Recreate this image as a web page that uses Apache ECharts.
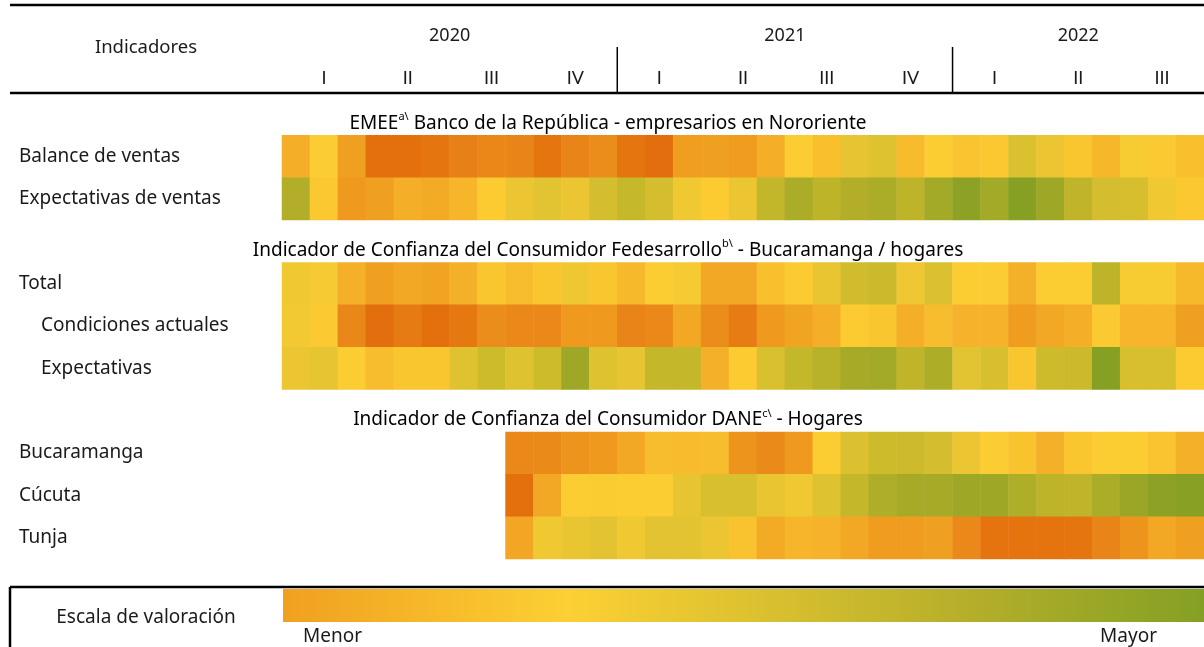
<!DOCTYPE html>
<html>
<head>
<meta charset="utf-8">
<script src="https://cdn.jsdelivr.net/npm/echarts@6/dist/echarts.min.js"></script>
<style>
  html, body { margin: 0; padding: 0; background: #fff; }
  #chart { width: 1204px; height: 647px; }
</style>
</head>
<body>
<div id="chart"></div>
<script>
// meses (ene-2020 a sep-2022)
const months = [
  'ene-20', 'feb-20', 'mar-20', 'abr-20', 'may-20', 'jun-20', 'jul-20', 'ago-20', 'sep-20', 'oct-20', 'nov-20', 'dic-20',
  'ene-21', 'feb-21', 'mar-21', 'abr-21', 'may-21', 'jun-21', 'jul-21', 'ago-21', 'sep-21', 'oct-21', 'nov-21', 'dic-21',
  'ene-22', 'feb-22', 'mar-22', 'abr-22', 'may-22', 'jun-22', 'jul-22', 'ago-22', 'sep-22'
];
const quarterLabels = ['I', 'II', 'III', 'IV', 'I', 'II', 'III', 'IV', 'I', 'II', 'III'];
const years = ['2020', '2021', '2022'];

// filas (las vacías son los títulos de cada bloque)
const rowLabels = [
  '', 'Balance de ventas', 'Expectativas de ventas',
  '', 'Total', 'Condiciones actuales', 'Expectativas',
  '', 'Bucaramanga', 'Cúcuta', 'Tunja'
];
const indentedRows = [5, 6];
const sectionTitles = [
  { row: 0, name: 'EMEE', sup: 'a\\', rest: ' Banco de la República - empresarios en Nororiente' },
  { row: 3, name: 'Indicador de Confianza del Consumidor Fedesarrollo', sup: 'b\\', rest: ' - Bucaramanga / hogares' },
  { row: 7, name: 'Indicador de Confianza del Consumidor DANE', sup: 'c\\', rest: ' - Hogares' }
];

// escala de valoración: 0 = menor, 100 = mayor
const balanceVentas = [30, 45, 25, 2, 2, 5, 10, 13, 12, 5, 12, 16, 5, 1, 24, 25, 23, 30, 45, 38, 55, 60, 36, 45, 40, 42, 62, 52, 41, 34, 47, 43, 38];
const expectativasVentas = [82, 42, 22, 25, 30, 29, 33, 44, 52, 58, 53, 66, 73, 66, 50, 44, 52, 75, 85, 77, 82, 85, 77, 88, 97, 88, 100, 90, 76, 66, 65, 50, 42];
const fedTotal = [50, 48, 31, 25, 28, 26, 31, 41, 37, 41, 51, 41, 35, 45, 48, 28, 28, 38, 44, 54, 68, 70, 51, 62, 45, 45, 31, 45, 45, 77, 47, 47, 35];
const fedCondiciones = [49, 43, 13, 1, 7, 2, 6, 16, 14, 14, 22, 22, 12, 14, 28, 16, 8, 22, 26, 30, 44, 41, 30, 37, 32, 32, 23, 28, 30, 43, 33, 33, 25];
const fedExpectativas = [52, 55, 45, 37, 41, 41, 59, 69, 60, 69, 90, 60, 55, 74, 74, 31, 44, 63, 74, 79, 87, 88, 76, 84, 58, 64, 41, 69, 70, 100, 64, 64, 44];
const daneBucaramanga = [null, null, null, null, null, null, null, null, 14, 15, 19, 22, 28, 37, 36, 37, 19, 15, 22, 45, 62, 69, 69, 66, 53, 45, 39, 31, 41, 45, 45, 40, 31];
const daneCucuta = [null, null, null, null, null, null, null, null, 2, 28, 45, 46, 45, 45, 55, 64, 64, 54, 50, 60, 74, 83, 87, 87, 90, 90, 83, 77, 76, 85, 92, 97, 99];
const daneTunja = [null, null, null, null, null, null, null, null, 27, 50, 54, 57, 50, 57, 57, 52, 39, 29, 33, 32, 28, 23, 23, 25, 14, 4, 4, 4, 5, 12, 19, 28, 25];

const scaleColors = [
  '#E36C0C', '#E5760F', '#E88018', '#EA8B19', '#EE961E', '#F0A020', '#F4AE28',
  '#F7B92C', '#FAC430', '#FCCD32', '#F0C832', '#E7C432', '#DEC230', '#D6BE2E',
  '#CCBA2C', '#C2B62A', '#B6B02A', '#ABAC28', '#9EA826', '#92A425', '#86A024'
];

const FONT = '"Noto Sans", sans-serif';
const TXT = '#1a1a1a';

const seriesRows = [
  [1, balanceVentas], [2, expectativasVentas],
  [4, fedTotal], [5, fedCondiciones], [6, fedExpectativas],
  [8, daneBucaramanga], [9, daneCucuta], [10, daneTunja]
];
const heatData = [];
seriesRows.forEach(([row, values]) => {
  values.forEach((v, i) => {
    if (v !== null) heatData.push([i, row, v]);
  });
});

const chart = echarts.init(document.getElementById('chart'));

chart.setOption({
  animation: false,
  backgroundColor: '#fff',
  textStyle: { fontFamily: FONT },
  grid: { left: 282, right: 0, top: 93, height: 466 },
  xAxis: {
    type: 'category',
    data: months,
    position: 'top',
    axisLine: { show: false },
    axisTick: { show: false },
    splitLine: { show: false },
    axisLabel: {
      interval: 0,
      margin: 6,
      fontFamily: 'Lato, "Liberation Sans", sans-serif',
      fontSize: 18,
      color: TXT,
      formatter: (val, idx) => (idx % 3 === 1 ? quarterLabels[(idx - 1) / 3] : '')
    }
  },
  yAxis: {
    type: 'category',
    data: rowLabels,
    inverse: true,
    axisLine: { show: false },
    axisTick: { show: false },
    splitLine: { show: false },
    axisLabel: {
      interval: 0,
      align: 'left',
      margin: 263,
      fontFamily: FONT,
      fontSize: 19,
      color: TXT,
      formatter: (val, idx) => (indentedRows.includes(idx) ? '{ind|' + val + '}' : val),
      rich: {
        ind: { padding: [0, 0, 0, 22], fontFamily: FONT, fontSize: 19, color: TXT }
      }
    }
  },
  visualMap: {
    show: false,
    type: 'continuous',
    min: 0,
    max: 100,
    dimension: 2,
    inRange: { color: scaleColors }
  },
  series: [{
    type: 'heatmap',
    data: heatData,
    itemStyle: { borderWidth: 0 },
    emphasis: { disabled: true }
  }]
});

// textos y líneas del encabezado, ubicados con las escalas del gráfico
const px = (i) => chart.convertToPixel({ xAxisIndex: 0 }, i);
const py = (i) => chart.convertToPixel({ yAxisIndex: 0 }, i);

const yearCenters = [
  (px(5) + px(6)) / 2,
  (px(17) + px(18)) / 2,
  px(28)
];
const yearSeparators = [(px(11) + px(12)) / 2, (px(23) + px(24)) / 2];

const graphics = [
  { type: 'line', shape: { x1: 10, y1: 5, x2: 1204, y2: 5 }, style: { stroke: '#000', lineWidth: 2.5 } },
  { type: 'line', shape: { x1: 10, y1: 93, x2: 1204, y2: 93 }, style: { stroke: '#000', lineWidth: 2.5 } },
  {
    type: 'text', x: 146, y: 48,
    style: { text: 'Indicadores', font: '18.5px ' + FONT, fill: TXT, align: 'center', verticalAlign: 'middle' }
  }
];

years.forEach((y, i) => {
  graphics.push({
    type: 'text', x: yearCenters[i], y: 36,
    style: { text: y, font: '18px ' + FONT, fill: TXT, align: 'center', verticalAlign: 'middle' }
  });
});
yearSeparators.forEach((x) => {
  graphics.push({
    type: 'line', shape: { x1: x, y1: 47, x2: x, y2: 92 },
    style: { stroke: '#000', lineWidth: 1.5 }
  });
});

sectionTitles.forEach((t) => {
  graphics.push({
    type: 'text', x: 608, y: py(t.row) + 9,
    style: {
      text: '{m|' + t.name + '}{s|' + t.sup + '}{m|' + t.rest + '}',
      align: 'center', verticalAlign: 'middle',
      rich: {
        m: { fontFamily: FONT, fontSize: 19, color: TXT, lineHeight: 23 },
        s: { fontFamily: FONT, fontSize: 11, color: TXT, lineHeight: 11, verticalAlign: 'top' }
      }
    }
  });
});

// escala de valoración
graphics.push(
  { type: 'line', shape: { x1: 10, y1: 587, x2: 1204, y2: 587 }, style: { stroke: '#000', lineWidth: 2.5 } },
  { type: 'line', shape: { x1: 10, y1: 587, x2: 10, y2: 647 }, style: { stroke: '#000', lineWidth: 2.5 } },
  {
    type: 'rect', shape: { x: 283, y: 589, width: 921, height: 33 },
    style: {
      fill: new echarts.graphic.LinearGradient(0, 0, 1, 0, [
        { offset: 0, color: '#F0A020' },
        { offset: 0.31, color: '#FCD034' },
        { offset: 0.5, color: '#DEC230' },
        { offset: 0.75, color: '#B4AE2A' },
        { offset: 1, color: '#84A024' }
      ])
    }
  },
  {
    type: 'text', x: 146, y: 618,
    style: { text: 'Escala de valoración', font: '19px ' + FONT, fill: TXT, align: 'center', verticalAlign: 'middle' }
  },
  {
    type: 'text', x: 303, y: 637,
    style: { text: 'Menor', font: '19px ' + FONT, fill: TXT, align: 'left', verticalAlign: 'middle' }
  },
  {
    type: 'text', x: 1157, y: 637,
    style: { text: 'Mayor', font: '19px ' + FONT, fill: TXT, align: 'right', verticalAlign: 'middle' }
  }
);

chart.setOption({ graphic: graphics });
</script>
</body>
</html>
